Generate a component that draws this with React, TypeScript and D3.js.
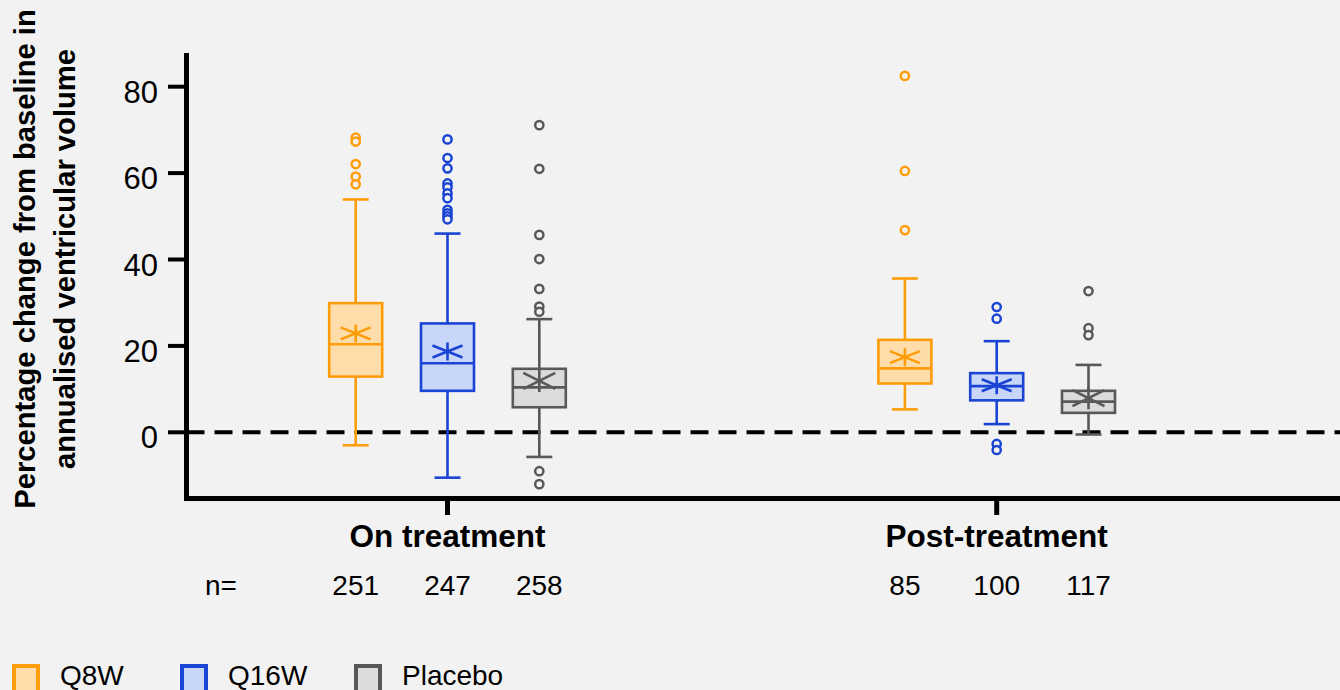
import React from "react";
import * as d3 from "d3";

const groups = ["On treatment", "Post-treatment"];
const series = ["Q8W", "Q16W", "Placebo"];
const strokeColors = ["#FF9C0A", "#1A44D4", "#585858"];
const fillColors = ["#FFDDAA", "#C8D6FA", "#DCDADA"];

// [group][series]
const q1 = [[12.9, 9.6, 5.8], [11.3, 7.4, 4.5]];
const q3 = [[29.9, 25.2, 14.7], [21.4, 13.7, 9.6]];
const medians = [[20.4, 16.0, 10.4], [14.8, 10.7, 7.1]];
const means = [[22.9, 18.7, 11.9], [17.4, 10.9, 7.9]];
const whiskerHigh = [[53.9, 46.0, 26.2], [35.6, 21.1, 15.6]];
const whiskerLow = [[-3.0, -10.5, -5.7], [5.3, 1.9, -0.5]];
const outliers = [
  [
    [68.2, 67.3, 62.1, 59.2, 57.4],
    [67.8, 63.5, 61.1, 57.6, 56.7, 55.3, 54.2, 51.5, 50.7, 50.0, 49.3],
    [71.1, 61.0, 45.7, 40.1, 33.2, 29.1, 27.9, -9.0, -12.0],
  ],
  [
    [82.5, 60.5, 46.8],
    [29.0, 26.3, -2.7, -4.1],
    [32.7, 24.1, 22.5],
  ],
];
const nCounts = [[251, 247, 258], [85, 100, 117]];
const yTicks = [0, 20, 40, 60, 80];

const W = 1340;
const H = 690;
const FONT = "Liberation Sans, Arial, Helvetica, sans-serif";

export default function App() {
  const y = d3.scaleLinear().domain([-15.6, 87.8]).range([499.7, 53]);
  const xg = d3.scalePoint<string>().domain(groups).range([447.5, 996.7]);
  const xs = d3.scalePoint<string>().domain(series).range([-91.8, 91.8]);
  const axisX = 186.5;
  const axisY = 498.5;
  const boxW = 53;
  const capW = 26;

  const asterisk = (cx: number, cy: number, hw: number, hd: number, hv: number) =>
    `M${cx - hw},${cy - hd}L${cx + hw},${cy + hd}M${cx - hw},${cy + hd}L${cx + hw},${cy - hd}M${cx},${cy - hv}L${cx},${cy + hv}`;

  return (
    <div style={{ position: "absolute", left: 0, top: 0 }}>
      <svg width={W} height={H} style={{ display: "block", background: "#F2F2F2" }} fontFamily={FONT}>
        <rect x={0} y={0} width={W} height={H} fill="#F2F2F2" />
        {/* dashed zero line */}
        <line x1={axisX} x2={W} y1={y(0)} y2={y(0)} stroke="#000" strokeWidth={4} strokeDasharray="18,10" />
        {/* boxes */}
        {groups.map((g, gi) =>
          series.map((s, si) => {
            const cx = (xg(g) as number) + (xs(s) as number);
            const sc = strokeColors[si];
            const isPl = si === 2;
            return (
              <g key={g + s}>
                <line x1={cx} x2={cx} y1={y(whiskerHigh[gi][si])} y2={y(q3[gi][si])} stroke={sc} strokeWidth={2.6} />
                <line x1={cx} x2={cx} y1={y(q1[gi][si])} y2={y(whiskerLow[gi][si])} stroke={sc} strokeWidth={2.6} />
                <line x1={cx - capW / 2} x2={cx + capW / 2} y1={y(whiskerHigh[gi][si])} y2={y(whiskerHigh[gi][si])} stroke={sc} strokeWidth={2.6} />
                <line x1={cx - capW / 2} x2={cx + capW / 2} y1={y(whiskerLow[gi][si])} y2={y(whiskerLow[gi][si])} stroke={sc} strokeWidth={2.6} />
                <rect
                  x={cx - boxW / 2}
                  y={y(q3[gi][si])}
                  width={boxW}
                  height={y(q1[gi][si]) - y(q3[gi][si])}
                  fill={fillColors[si]}
                  stroke={sc}
                  strokeWidth={2.6}
                />
                <line x1={cx - boxW / 2} x2={cx + boxW / 2} y1={y(medians[gi][si])} y2={y(medians[gi][si])} stroke={sc} strokeWidth={2.6} />
                <path
                  d={asterisk(cx, y(means[gi][si]), isPl ? 16 : 15, isPl ? 8 : 6, isPl ? 11 : 9)}
                  stroke={sc}
                  strokeWidth={2.6}
                  fill="none"
                />
                {outliers[gi][si].map((v, oi) => (
                  <circle key={oi} cx={cx} cy={y(v)} r={4.1} fill="#F2F2F2" stroke={sc} strokeWidth={2.5} />
                ))}
              </g>
            );
          })
        )}
        {/* axes */}
        <line x1={axisX} x2={axisX} y1={53} y2={axisY + 2.5} stroke="#000" strokeWidth={5} />
        <line x1={axisX - 2.5} x2={W} y1={axisY} y2={axisY} stroke="#000" strokeWidth={5} />
        {yTicks.map((t) => (
          <g key={t}>
            <line x1={168} x2={axisX} y1={y(t)} y2={y(t)} stroke="#000" strokeWidth={4} />
            <text x={158} y={y(t) + 16} textAnchor="end" fontSize={31} fill="#000">
              {t}
            </text>
          </g>
        ))}
        {groups.map((g) => (
          <g key={g}>
            <line x1={xg(g) as number} x2={xg(g) as number} y1={axisY} y2={515} stroke="#000" strokeWidth={5} />
            <text x={xg(g) as number} y={547} textAnchor="middle" fontSize={31.5} fontWeight="bold" fill="#000">
              {g}
            </text>
          </g>
        ))}
        <text x={205} y={595} fontSize={28} fill="#000">n=</text>
        {groups.map((g, gi) =>
          series.map((s, si) => (
            <text key={g + s} x={(xg(g) as number) + (xs(s) as number)} y={595} textAnchor="middle" fontSize={28} fill="#000">
              {nCounts[gi][si]}
            </text>
          ))
        )}
        {/* y title */}
        <g transform="translate(35,259) rotate(-90)">
          <text x={0} y={0} textAnchor="middle" fontSize={29.2} fontWeight="bold" fill="#000">
            Percentage change from baseline in
          </text>
          <text x={0} y={40} textAnchor="middle" fontSize={29.2} fontWeight="bold" fill="#000">
            annualised ventricular volume
          </text>
        </g>
        {/* legend */}
        {series.map((s, si) => {
          const lx = [14, 182, 356][si];
          return (
            <g key={s}>
              <rect x={lx} y={666} width={24} height={28} fill={fillColors[si]} stroke={strokeColors[si]} strokeWidth={4} />
              <text x={lx + 46} y={685} fontSize={28} fill="#000">
                {s}
              </text>
            </g>
          );
        })}
      </svg>
    </div>
  );
}
